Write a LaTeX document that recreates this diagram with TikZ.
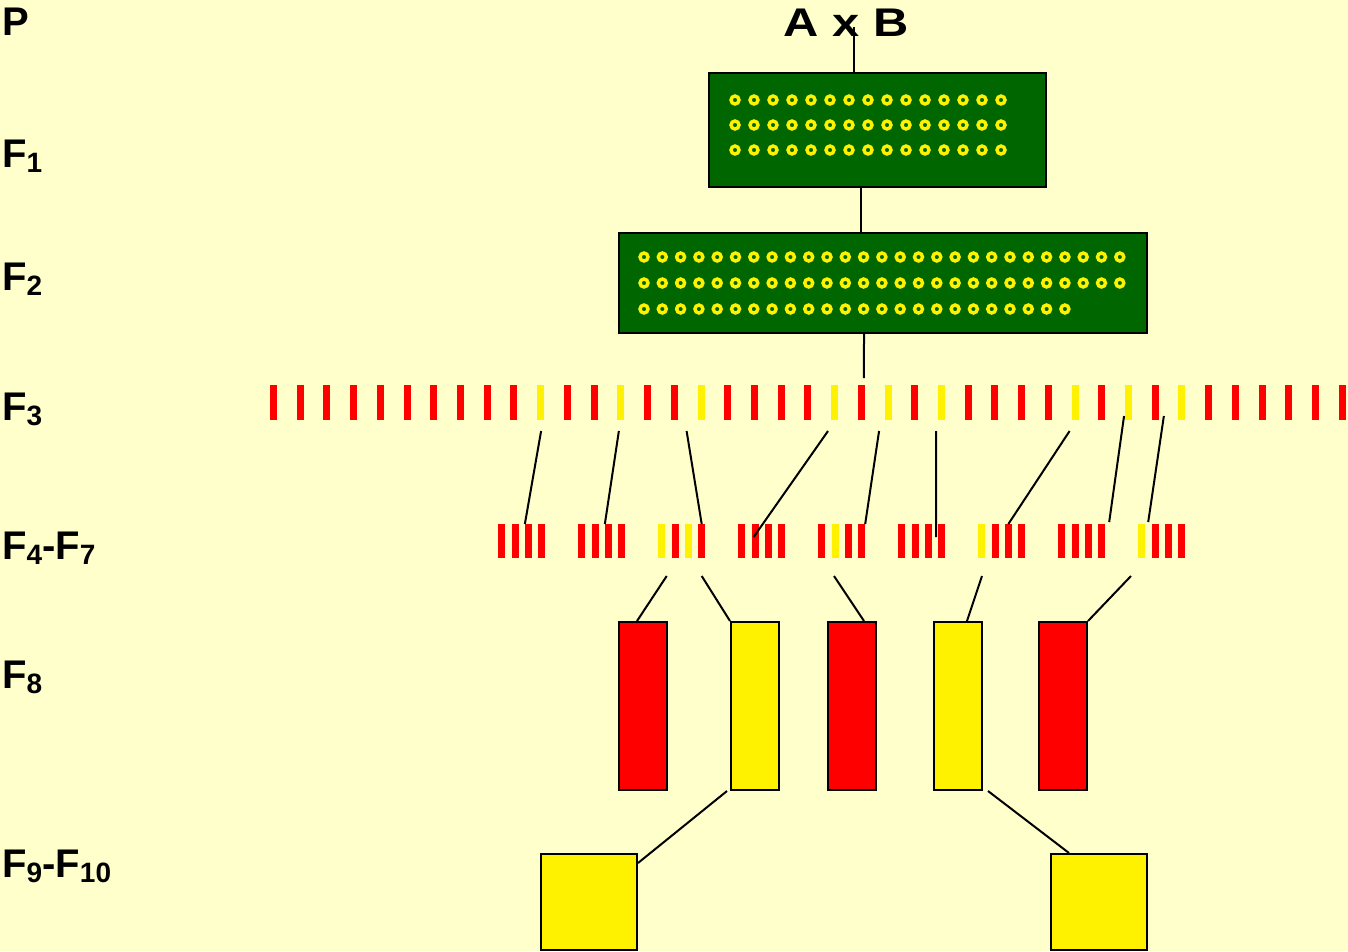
\documentclass[tikz,border=0pt]{standalone}
\usepackage{fontspec}
\setmainfont{Liberation Sans}
\usetikzlibrary{calc}
\definecolor{paper}{RGB}{255,255,204}
\definecolor{leaf}{RGB}{0,102,0}
\colorlet{R}{red}
\colorlet{Y}{yellow}
\newcommand\gsub[1]{\raisebox{-5pt}{\fontsize{28}{30}\selectfont#1}}
\tikzset{
  gen/.style={font=\fontsize{40}{44}\selectfont\bfseries, anchor=base west, inner sep=0pt},
  plate/.style={draw=black, line width=2pt, fill=leaf, inner sep=0pt},
  seed/.style={draw=yellow, line width=3.4pt},
  bar/.style={inner sep=0pt, outer sep=0pt, minimum width=7pt, minimum height=35pt},
  sbar/.style={bar, minimum height=34pt},
  plant/.style={draw=black, line width=2pt, inner sep=0pt, minimum width=48pt, minimum height=168pt},
  stem/.style={line width=2pt}
}

\begin{document}
\begin{tikzpicture}[x=1pt, y=-1pt]
  \fill[paper] (0,0) rectangle (1348,951);
  \useasboundingbox (0,0) rectangle (1348,951);
  % generation labels
  \node[gen] (lp) at (2,35)  {P};
  \node[gen] (l1) at (2,167) {F\gsub{1}};
  \node[gen] (l2) at (2,290) {F\gsub{2}};
  \node[gen] (l3) at (2,420) {F\gsub{3}};
  \node[gen] (l4) at (2,559) {F\gsub{4}-F\gsub{7}};
  \node[gen] (l8) at (2,688) {F\gsub{8}};
  \node[gen] (l9) at (2,877) {F\gsub{9}-F\gsub{10}};
  \node[gen, anchor=base] (ab) at (846,36) {\scalebox{1.22}[1]{A x B}};
  % F1 and F2 populations
  \node[plate, minimum width=337pt, minimum height=114pt] (f1) at (877.5,130) {};
  \foreach \y in {100,125,150}
    \foreach \i in {0,...,14}
      \draw[seed] ({735+19*\i},\y) circle (4pt);
  \node[plate, minimum width=528pt, minimum height=100pt] (f2) at (883,283) {};
  \foreach \y/\n in {257/26,283/26,309/23}
    \foreach \i in {0,...,\n}
      \draw[seed] ({644+18.3*\i},\y) circle (4pt);
  % F3 lines
  \foreach \col [count=\i from 0] in {R,R,R,R,R,R,R,R,R,R,Y,R,R,Y,R,R,Y,R,R,R,R,Y,R,Y,R,Y,R,R,R,R,Y,R,Y,R,Y,R,R,R,R,R,R}
    \node[bar, fill=\col] (t\i) at ({273.5+26.72*\i},402.5) {};
  % F4-F7 families
  \foreach \ca/\cb/\cc/\cd [count=\k from 0] in {R/R/R/R,R/R/R/R,Y/R/Y/R,R/R/R/R,R/Y/R/R,R/R/R/R,Y/R/R/R,R/R/R/R,Y/R/R/R}
    \foreach \j/\col in {0/\ca,1/\cb,2/\cc,3/\cd}
      \node[sbar, fill=\col] (s\k-\j) at ({501.7+80*\k+13.33*\j},541) {};
  % F8 and F9-F10 selections
  \node[plant, fill=R] (e1) at (643,706) {};
  \node[plant, fill=Y] (e2) at (755,706) {};
  \node[plant, fill=R] (e3) at (852,706) {};
  \node[plant, fill=Y] (e4) at (958,706) {};
  \node[plant, fill=R] (e5) at (1063,706) {};
  \node[plant, fill=Y, minimum width=96pt, minimum height=96pt] (g1) at (589,902) {};
  \node[plant, fill=Y, minimum width=96pt, minimum height=96pt] (g2) at (1099,902) {};
  % pedigree links
  \draw[stem] ($(ab.base)+(8,-9)$) -- ($(f1.north)+(-23.5,0)$);
  \draw[stem] ($(f1.south)+(-16.5,0)$) -- ($(f2.north)+(-22,0)$);
  \draw[stem] ($(f2.south)+(-19,0)$) -- ($(t22.north)+(2.6,-7)$);
  \draw[stem] ($(t10.south)+(0.4,11)$) -- (s0-2.north west);
  \draw[stem] ($(t13.south)+(-2,11)$) -- (s1-2.north west);
  \draw[stem] ($(t15.south)+(12.3,11)$) -- (s2-3.north);
  \draw[stem] ($(t21.south)+(-6.6,11)$) -- ($(s3-1.center)+(-1.4,-4)$);
  \draw[stem] ($(t23.south)+(-9,11)$) -- (s4-3.north east);
  \draw[stem] ($(t25.south)+(-5.5,11)$) -- ($(s5-3.west)+(-2.2,-4)$);
  \draw[stem] ($(t30.south)+(-5.5,11)$) -- (s6-2.north);
  \draw[stem] ($(t32.south)+(-4.5,-4)$) -- ($(s7-3.north east)+(4,-2)$);
  \draw[stem] ($(t33.south)+(8.6,-4)$) -- ($(s8-0.north east)+(3,-2)$);
  \draw[stem] ($(s2-0.south)+(5,18)$) -- ($(e1.north)+(-6,0)$);
  \draw[stem] ($(s2-3.south)+(0,18)$) -- (e2.north west);
  \draw[stem] ($(s4-1.south)+(-1,18)$) -- ($(e3.north)+(12,0)$);
  \draw[stem] ($(s6-0.south)+(0.3,18)$) -- ($(e4.north)+(9,0)$);
  \draw[stem] ($(s8-0.south)+(-10.7,18)$) -- (e5.north east);
  \draw[stem] ($(e2.south west)+(-3,0)$) -- ($(g1.north east)+(0,10)$);
  \draw[stem] ($(e4.south east)+(5,0)$) -- ($(g2.north west)+(19,0)$);
\end{tikzpicture}
\end{document}
